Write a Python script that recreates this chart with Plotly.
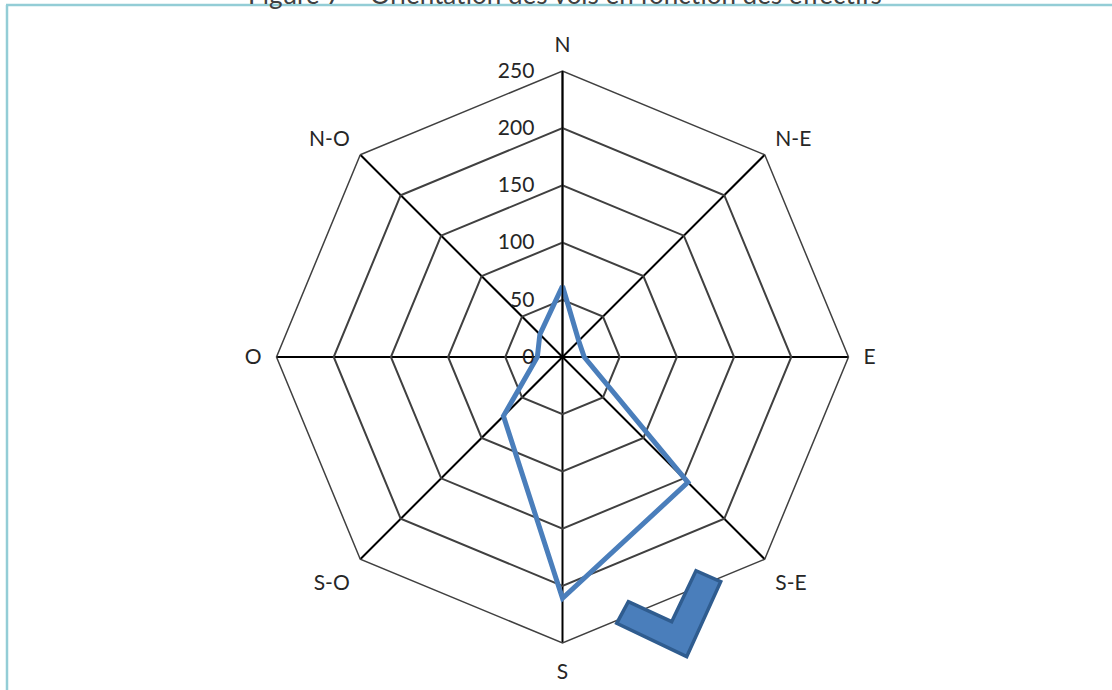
import plotly.graph_objects as go

W, H = 1112, 690

directions = ["N", "N-E", "E", "S-E", "S", "S-O", "O", "N-O"]
effectifs = [62, 20, 19, 155, 211, 73, 22, 28]
radial_ticks = [0, 50, 100, 150, 200, 250]
title_text = "Figure 7 – Orientation des vols en fonction des effectifs"

# polar placement (pixels)
cx, cy, R = 562.5, 357, 286

fig = go.Figure()
fig.add_trace(go.Scatterpolar(
    r=effectifs + effectifs[:1],
    theta=directions + directions[:1],
    mode="lines",
    line=dict(color="#4A7EBB", width=5),
    hoverinfo="skip",
    showlegend=False,
))

def px(x):
    return x / W

def py(y):
    return 1 - y / H

# check-mark decoration (pixel coords)
check = [(628.3, 601.7), (671.7, 621.7), (696, 570.7), (720.7, 581.7), (686.7, 656.7), (616.7, 623.3)]
path = "M " + " L ".join(f"{px(x):.5f},{py(y):.5f}" for x, y in check) + " Z"

fig.update_layout(
    width=W, height=H, autosize=False,
    margin=dict(l=0, r=0, t=0, b=0),
    paper_bgcolor="white",
    plot_bgcolor="white",
    font=dict(family="Lato, Calibri, sans-serif", size=21, color="#262626"),
    polar=dict(
        domain=dict(x=[px(cx - R), px(cx + R)], y=[py(cy + R), py(cy - R)]),
        bgcolor="white",
        gridshape="linear",
        radialaxis=dict(
            range=[0, 250],
            tickvals=radial_ticks,
            angle=90,
            tickangle=90,
            side="counterclockwise",
            showline=True,
            linecolor="#000000",
            linewidth=1.6,
            gridcolor="#404040",
            gridwidth=1.5,
            ticks="outside",
            ticklen=20,
            tickcolor="rgba(0,0,0,0)",
            tickfont=dict(size=21, color="#262626"),
        ),
        angularaxis=dict(
            categoryarray=directions,
            categoryorder="array",
            rotation=90,
            direction="clockwise",
            showline=True,
            linecolor="#404040",
            linewidth=1.5,
            gridcolor="#000000",
            gridwidth=1.5,
            ticks="outside",
            ticklen=10,
            tickcolor="rgba(0,0,0,0)",
            tickfont=dict(size=21, color="#262626"),
        ),
    ),
    shapes=[
        dict(type="line", xref="paper", yref="paper",
             x0=px(6), y0=py(5), x1=1, y1=py(5),
             line=dict(color="#93CDD6", width=2.5)),
        dict(type="line", xref="paper", yref="paper",
             x0=px(7), y0=py(5), x1=px(7), y1=0,
             line=dict(color="#93CDD6", width=2.5)),
        dict(type="path", xref="paper", yref="paper", path=path,
             fillcolor="#4A7EBB", line=dict(color="#2F5C8F", width=3.5)),
    ],
    annotations=[
        dict(text=title_text, xref="paper", yref="paper",
             x=px(565), y=1, xanchor="center", yanchor="bottom",
             yshift=-12, showarrow=False,
             font=dict(family="Lato, sans-serif", size=26, color="#404040")),
    ],
)

fig.write_html("out.html", config={"displayModeBar": False},
               post_script="document.body.style.margin='0';document.body.style.overflow='hidden';")
